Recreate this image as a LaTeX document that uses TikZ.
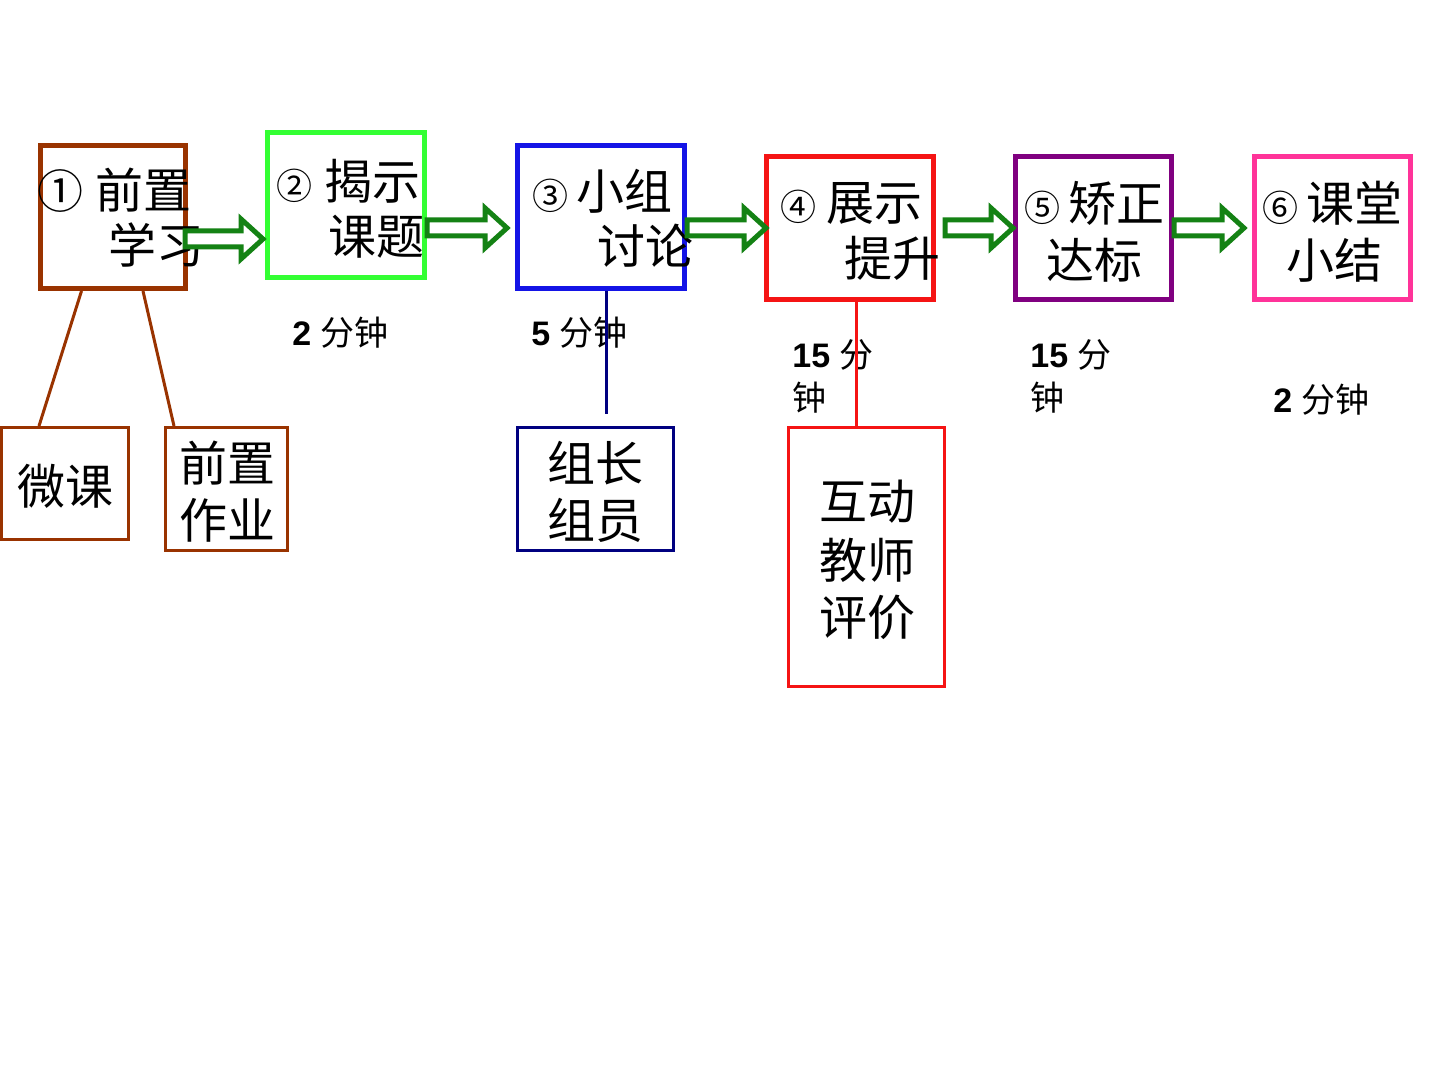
\documentclass[tikz,border=0pt]{standalone}
\usepackage{fontspec}
\setmainfont{Liberation Sans}
\newfontfamily\cjk{Noto Sans CJK SC}
\usetikzlibrary{calc}
\definecolor{brownc}{RGB}{153,51,0}
\definecolor{greenbox}{RGB}{51,255,51}
\definecolor{bluebox}{RGB}{20,20,230}
\definecolor{redbox}{RGB}{245,20,20}
\definecolor{purplebox}{RGB}{128,0,128}
\definecolor{pinkbox}{RGB}{255,51,153}
\definecolor{navyc}{RGB}{0,0,128}
\definecolor{arrowgreen}{RGB}{20,130,20}
\newcommand\harrow[2]{%
  \draw[harrowstyle] let \p1=(#1), \p2=(#2) in
    (\x1,\y1+4pt) -- (\x2-11pt,\y1+4pt) -- (\x2-11pt,\y1+10pt) -- (\x2,\y1)
    -- (\x2-11pt,\y1-10pt) -- (\x2-11pt,\y1-4pt) -- (\x1,\y1-4pt) -- cycle;}
\begin{document}
\begin{tikzpicture}[x=0.5pt,y=-0.5pt,
  mainbox/.style={draw=#1, line width=2.5pt, inner sep=0pt, rectangle},
  subbox/.style={draw=#1, line width=1.5pt, inner sep=0pt, rectangle},
  link/.style={draw=#1, line width=1.5pt},
  boxtext/.style={anchor=west, inner sep=0pt, font=\cjk\fontsize{24pt}{28pt}\selectfont},
  timelabel/.style={anchor=west, inner sep=0pt, font=\fontsize{17pt}{21pt}\selectfont},
  harrowstyle/.style={draw=arrowgreen, line width=2.5pt, fill=white, line join=miter}]
\fill[white] (0,0) rectangle (1440,1080);
\useasboundingbox (0,0) rectangle (1440,1080);
% main boxes
\node[mainbox=brownc, minimum width=72.5pt, minimum height=71.5pt] (b1) at (113,217) {};
\node[mainbox=greenbox, minimum width=78.5pt, minimum height=72.5pt] (b2) at (346,205) {};
\node[mainbox=bluebox, minimum width=83.5pt, minimum height=71.5pt] (b3) at (601,217) {};
\node[mainbox=redbox, minimum width=83.5pt, minimum height=71.5pt] (b4) at (850,228) {};
\node[mainbox=purplebox, minimum width=78pt, minimum height=71.5pt] (b5) at (1093.5,228) {};
\node[mainbox=pinkbox, minimum width=78pt, minimum height=71.5pt] (b6) at (1332.5,228) {};
% sub boxes
\node[subbox=brownc, minimum width=63.5pt, minimum height=56pt] (s1) at (65,483.5) {};
\node[subbox=brownc, minimum width=61pt, minimum height=61.5pt] (s2) at (226.5,489) {};
\node[subbox=navyc, minimum width=78pt, minimum height=61.5pt] (s3) at (595.5,489) {};
\node[subbox=redbox, minimum width=78pt, minimum height=129.5pt] (s4) at (866.5,557) {};
% box texts
\node[boxtext] (t1a) at (37,190) {{\fontsize{23pt}{23pt}\selectfont ①}\hspace{6pt}前置};
\node[boxtext] (t1b) at (108,245) {学习};
\node[boxtext] (t2a) at (276,181) {{\fontsize{18pt}{18pt}\selectfont ②}\hspace{6pt}揭示};
\node[boxtext] (t2b) at (328,237) {课题};
\node[boxtext] (t3a) at (532,191) {{\fontsize{18pt}{18pt}\selectfont ③}\hspace{4pt}小组};
\node[boxtext] (t3b) at (597,246) {讨论};
\node[boxtext] (t4a) at (780,203) {{\fontsize{18pt}{18pt}\selectfont ④}\hspace{5pt}展示};
\node[boxtext] (t4b) at (844,258) {提升};
\node[boxtext] (t5a) at (1024,203) {{\fontsize{18pt}{18pt}\selectfont ⑤}\hspace{4pt}矫正};
\node[boxtext] (t5b) at (1046,260) {达标};
\node[boxtext] (t6a) at (1262,203) {{\fontsize{18pt}{18pt}\selectfont ⑥}\hspace{4pt}课堂};
\node[boxtext] (t6b) at (1286,260) {小结};
\node[boxtext] (u1) at (17,486) {微课};
\node[boxtext] (u2a) at (179,463) {前置};
\node[boxtext] (u2b) at (179,520) {作业};
\node[boxtext] (u3a) at (547,463) {组长};
\node[boxtext] (u3b) at (547,520) {组员};
\node[boxtext] (u4a) at (819,502) {互动};
\node[boxtext] (u4b) at (819,560) {教师};
\node[boxtext] (u4c) at (819,617) {评价};
% time labels
\node[timelabel] (m2) at (292,333) {\bfseries 2 {\cjk\mdseries 分钟}};
\node[timelabel] (m3) at (531,333) {\bfseries 5 {\cjk\mdseries 分钟}};
\node[timelabel] (m4a) at (792,355) {\bfseries 15 {\cjk\mdseries 分}};
\node[timelabel] (m4b) at (792,398) {\cjk 钟};
\node[timelabel] (m5a) at (1030,355) {\bfseries 15 {\cjk\mdseries 分}};
\node[timelabel] (m5b) at (1030,398) {\cjk 钟};
\node[timelabel] (m6) at (1273,400) {\bfseries 2 {\cjk\mdseries 分钟}};
% connectors
\draw[link=brownc] ($(b1.south west)!0.29!(b1.south east)$) -- ($(s1.north west)!0.30!(s1.north east)$);
\draw[link=brownc] ($(b1.south west)!0.70!(b1.south east)$) -- ($(s2.north west)!0.08!(s2.north east)$);
\coordinate (n3end) at (606,414);
\draw[link=navyc] (n3end |- b3.south) -- (n3end);
\coordinate (r4) at (856,0);
\draw[link=redbox] (r4 |- b4.south) -- (r4 |- s4.north);
% arrows
\coordinate (a1s) at (185,239); \coordinate (a1t) at (263,239);
\coordinate (a2s) at (427,228); \coordinate (a2t) at (507,228);
\coordinate (a3s) at (687,228); \coordinate (a3t) at (766,228);
\coordinate (a4s) at (945,228); \coordinate (a4t) at (1013,228);
\coordinate (a5s) at (1174,228); \coordinate (a5t) at (1244,228);
\harrow{a1s}{a1t}
\harrow{a2s}{a2t}
\harrow{a3s}{a3t}
\harrow{a4s}{a4t}
\harrow{a5s}{a5t}
\end{tikzpicture}
\end{document}
